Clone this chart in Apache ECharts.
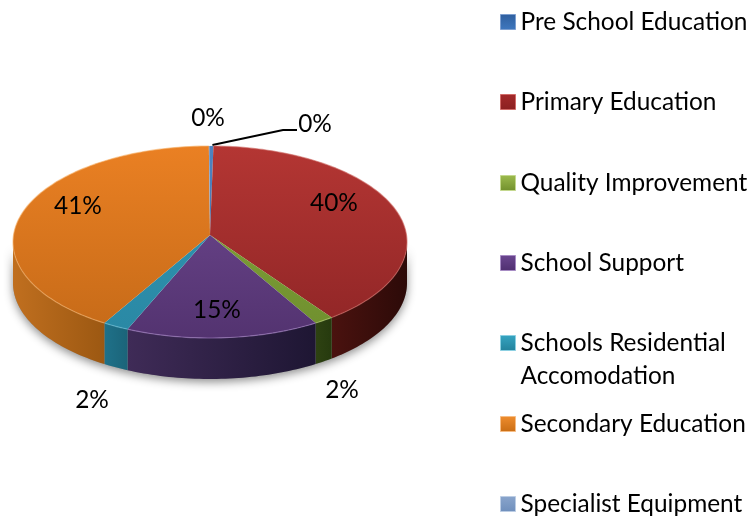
<!DOCTYPE html>
<html>
<head>
<meta charset="utf-8">
<style>html,body{margin:0;padding:0;background:#fff}#c{width:755px;height:519px}</style>
<script src="https://cdn.jsdelivr.net/npm/echarts@6/dist/echarts.min.js"></script>
</head>
<body>
<div id="c"></div>
<script>
const categories = ['Pre School Education','Primary Education','Quality Improvement','School Support','Schools Residential Accomodation','Secondary Education','Specialist Equipment'];
const shareValues = [0.3, 39.8, 1.5, 14.8, 2.0, 41.5, 0.1];
const percentLabels = ['0%','40%','2%','15%','2%','41%','0%'];

const topColors = [['#4f83c0','#3f6fa8'],['#b43633','#8f2526'],['#85a63c','#6f8f2e'],['#714a93','#533370'],['#2f97b4','#2a88a4'],['#ea8023','#c56a18'],['#7f9ec9','#7f9ec9']];
const wallColors = [['#2b4a73','#2b4a73'],['#4a120f','#2c0a08'],['#2e4212','#263a0e'],['#3f2b57','#1e1633'],['#1f7189','#1b6479'],['#c06f1f','#9c5812'],['#55709a','#55709a']];
const rimColors = ['#7ea6d8','#cf6a66','#b5cf70','#a783c8','#70c5de','#f6b26b','#a8c0e0'];
const legendSwatch = [['#2f5f9e','#3f78bf','#7d9fd0'],['#a3292a','#8b2020','#d26b68'],['#9dbb4e','#71902c','#c4d88e'],['#6b4790','#4f2f70','#a78cc4'],['#36a5c2','#23829c','#8cd0e2'],['#ef8d2e','#c96d14','#f6bd85'],['#8aa5cc','#6f8fbc','#bccde4']];
const legendCenters = [22, 102, 183, 263, 343, 424, 504];
const labelCenters = [[208,118],[334,203],[342,390],[217,310],[92,400],[78,206],[315,124]];

const cx = 210, cy = 242, rx = 197, ry = 96, apexY = 235, depth = 41;
const FONT = 'Lato';
const FONT_SIZE = 24.4;

const klein = (cy - apexY) / ry;
const mob = (1 - Math.sqrt(1 - klein * klein)) / klein;

function rimPoint(frac) {
  const th = frac * 2 * Math.PI;
  const u = Math.sin(th), v = Math.cos(th);
  const nr = u, ni = v + mob;
  const dr = 1 + mob * v, di = -mob * u;
  const m = dr * dr + di * di;
  const wr = (nr * dr + ni * di) / m, wi = (ni * dr - nr * di) / m;
  return [cx + rx * wr, cy - ry * wi];
}

const cumulative = [];
shareValues.reduce((acc, v, i) => { cumulative[i] = acc; return acc + v; }, 0);
const total = shareValues.reduce((a, b) => a + b, 0);

function rimArc(start, value) {
  const n = Math.max(2, Math.ceil(value * 3));
  const pts = [];
  for (let k = 0; k <= n; k++) pts.push(rimPoint((start + value * k / n) / total));
  return pts;
}

function grad(c, vertical) {
  return vertical
    ? new echarts.graphic.LinearGradient(0, cy - ry, 0, cy + ry, [{offset:0,color:c[0]},{offset:1,color:c[1]}], true)
    : new echarts.graphic.LinearGradient(0, 0, 1, 0, [{offset:0,color:c[0]},{offset:1,color:c[1]}]);
}

function renderSlice(params, api) {
  const i = params.seriesIndex;
  const value = api.value(0);
  const arc = rimArc(cumulative[i], value);
  const children = [];
  const front = arc.filter(p => p[1] >= cy);
  if (i === 0) {
    const base = rimArc(0, total).filter(p => p[1] >= cy - 2);
    const outline = base.concat(base.slice().reverse().map(p => [p[0], p[1] + depth]));
    children.push({ type:'polygon', silent:true, shape:{points:outline},
      style:{fill:'#999', shadowBlur:10, shadowColor:'rgba(0,0,0,0.45)', shadowOffsetY:3} });
  }
  if (front.length > 1) {
    const wall = front.concat(front.slice().reverse().map(p => [p[0], p[1] + depth]));
    children.push({ type:'polygon', shape:{points:wall}, style:{fill:grad(wallColors[i], false)} });
  }
  children.push({ type:'polygon', shape:{points:[[cx, apexY]].concat(arc)}, style:{fill:grad(topColors[i], true)} });
  children.push({ type:'polyline', silent:true, shape:{points:arc},
    style:{fill:'none', stroke:rimColors[i], lineWidth:1.2, opacity: front.length > 1 ? 0.6 : 0.2} });
  if (i === 0) {
    const r = rimPoint((cumulative[0] + value) / total);
    children.push({ type:'polyline', silent:true, shape:{points:[[r[0]-1, r[1]-1],[labelCenters[6][0]-32, labelCenters[6][1]+6],[labelCenters[6][0]-18, labelCenters[6][1]+6]]},
      style:{fill:'none', stroke:'#000', lineWidth:2} });
  }
  children.push({ type:'text', silent:true, z2:50, style:{ text: percentLabels[i],
    x: labelCenters[i][0], y: labelCenters[i][1], align:'center', verticalAlign:'middle',
    fill:'#000', font: FONT_SIZE + 'px ' + FONT } });
  return { type:'group', children };
}

const chart = echarts.init(document.getElementById('c'), null, {renderer:'canvas'});
chart.setOption({
  animation:false,
  backgroundColor:'#fff',
  legend: categories.map((name, i) => ({
    data:[{ name, itemStyle:{
      color:new echarts.graphic.LinearGradient(0,0,0,1,[{offset:0,color:legendSwatch[i][0]},{offset:1,color:legendSwatch[i][1]}]),
      borderColor:legendSwatch[i][2], borderWidth:1 } }],
    orient:'vertical', left:500, top: legendCenters[i] - (name.length > 25 ? 49.5 : 16.5), padding:0,
    itemWidth:15, itemHeight:15, icon:'rect', selectedMode:false,
    formatter: n => n.length > 25 ? '\nSchools Residential\nAccomodation' : n,
    textStyle:{ fontFamily:FONT, fontSize:FONT_SIZE, color:'#000', lineHeight:33 }
  })),
  series: categories.map((name, i) => ({
    type:'custom', name, coordinateSystem:'none', renderItem:renderSlice,
    data:[[shareValues[i]]], itemStyle:{color:topColors[i][0]}, silent:true
  }))
});
</script>
</body>
</html>
